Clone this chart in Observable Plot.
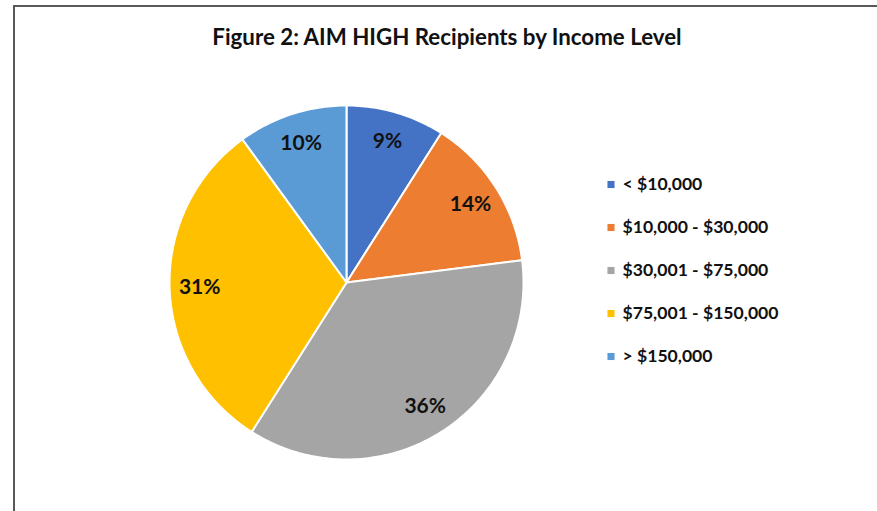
<!DOCTYPE html>
<html>
<head>
<meta charset="utf-8">
<script src="https://cdn.jsdelivr.net/npm/d3@7"></script>
<script src="https://cdn.jsdelivr.net/npm/@observablehq/plot@0.6"></script>
<style>
  html, body { margin: 0; padding: 0; background: #fff; }
  #wrap { position: relative; width: 877px; height: 511px; overflow: hidden; font-family: Lato, "Open Sans", sans-serif; }
  #frame { position: absolute; left: 13px; top: 5px; width: 870px; height: 520px; border-top: 2px solid #595959; border-left: 2px solid #595959; }
  #title { position: absolute; left: 0; width: 894px; top: 23px; text-align: center; font-weight: bold; font-size: 22.3px; color: #111; }
  #pie { position: absolute; left: 166px; top: 102px; }
  #legend { position: absolute; left: 600px; top: 162px; }
</style>
</head>
<body>
<div id="wrap">
  <div id="frame"></div>
  <div id="title">Figure 2: AIM HIGH Recipients by Income Level</div>
  <div id="pie"></div>
  <div id="legend"></div>
</div>
<script>
const categories = ["< $10,000", "$10,000 - $30,000", "$30,001 - $75,000", "$75,001 - $150,000", "> $150,000"];
const shares = [9, 14, 36, 31, 10];
const colors = ["#4472C4", "#ED7D31", "#A5A5A5", "#FFC000", "#5B9BD5"];

const rows = categories.map((c, i) => ({category: c, share: shares[i]}));
const arcs = d3.pie().sort(null).value(d => d.share)(rows);

// Build wedge polygons (unit radius) from the pie angles; angle 0 at top, clockwise
function pt(a) { return [Math.sin(a), -Math.cos(a)]; }
function wedge(a0, a1) {
  const ring = [[0, 0]];
  const n = Math.max(2, Math.ceil((a1 - a0) / (Math.PI / 180)));
  for (let k = 0; k <= n; k++) ring.push(pt(a0 + (a1 - a0) * k / n));
  ring.push([0, 0]);
  return ring;
}
const features = arcs.map(a => ({
  type: "Feature",
  properties: {category: a.data.category, share: a.data.share},
  geometry: {type: "Polygon", coordinates: [wedge(a.startAngle, a.endAngle)]}
}));
const labelR = 0.83;
const labels = arcs.map(a => {
  const [x, y] = pt((a.startAngle + a.endAngle) / 2);
  return {x: labelR * x, y: labelR * y, text: a.data.share + "%"};
});
const outline = {type: "Feature", geometry: {type: "Polygon", coordinates: [wedge(0, 2 * Math.PI).slice(1, -1).concat([pt(0)])]}};

const pie = Plot.plot({
  width: 360,
  height: 360,
  margin: 0,
  projection: {type: "identity", reflectY: true, domain: outline, inset: 3},
  color: {domain: categories, range: colors},
  marks: [
    Plot.geo(features, {fill: d => d.properties.category, stroke: "white", strokeWidth: 2, strokeLinejoin: "round"}),
    Plot.text(labels, {x: "x", y: "y", text: "text", fontSize: 21, fontWeight: "bold", fill: "#111", fontFamily: "Lato, 'Open Sans', sans-serif"})
  ]
});
document.getElementById("pie").appendChild(pie);

const legend = Plot.plot({
  width: 260,
  height: 216,
  margin: 0,
  x: {axis: null},
  y: {type: "point", domain: categories, range: [22, 194], padding: 0, axis: null},
  color: {domain: categories, range: colors},
  marks: [
    Plot.dot(categories, {y: d => d, frameAnchor: "left", dx: 10.5, symbol: "square", r: 4, fill: d => d, stroke: null}),
    Plot.text(categories, {y: d => d, frameAnchor: "left", dx: 22, text: d => d, textAnchor: "start", fontSize: 17.6, fontWeight: "bold", fill: "#111", fontFamily: "Lato, 'Open Sans', sans-serif"})
  ]
});
document.getElementById("legend").appendChild(legend);
</script>
</body>
</html>
